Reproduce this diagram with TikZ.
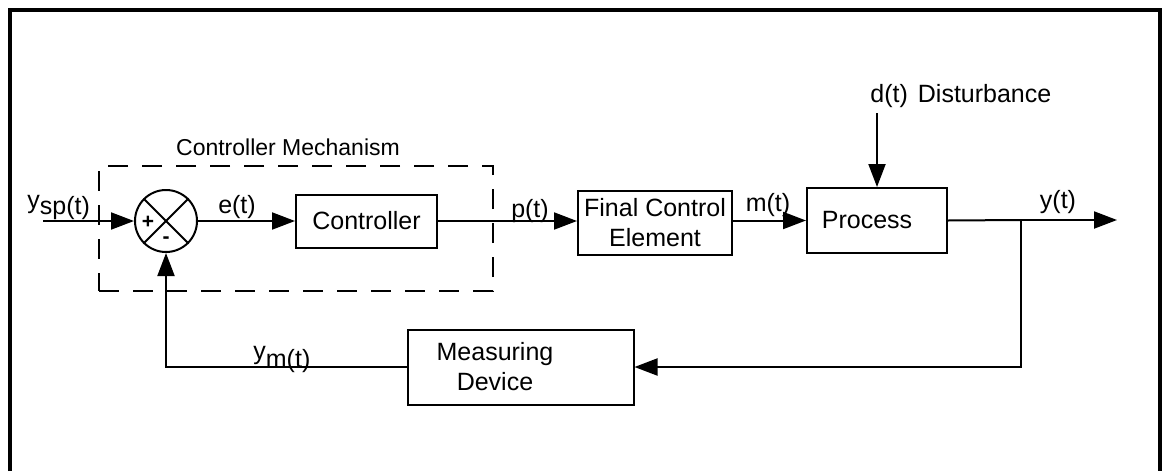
\documentclass[tikz,border=0pt]{standalone}
\usepackage{fontspec}
\setmainfont{Liberation Sans}
\usetikzlibrary{arrows.meta}
\begin{document}
\begin{tikzpicture}[x=0.5pt,y=-0.5pt,
  every node/.style={font=\fontsize{12.5pt}{15pt}\selectfont},
  wire/.style={line width=1pt},
  flow/.style={wire,-{Triangle[length=11.5pt,width=8.5pt]}},
  block/.style={draw,line width=1pt,inner sep=0pt,align=center},
  blocktext/.style={inner sep=0pt,align=center},
  mechbox/.style={draw,line width=1pt,dash pattern=on 10pt off 7pt,inner sep=0pt},
  sumjunction/.style={draw,circle,line width=1pt,minimum size=31pt,inner sep=0pt},
  sign/.style={font=\fontsize{10.5pt}{11pt}\selectfont\bfseries,inner sep=0pt}
]
\useasboundingbox (0,0) rectangle (1165,471);

% outer frame (open at the bottom)
\draw[line width=2pt] (9.5,471) -- (9.5,10) -- (1160,10) -- (1160,471);

% controller mechanism grouping
\node[mechbox,minimum width=197pt,minimum height=62.5pt] (mech) at (296,228.5) {};
\node[font=\fontsize{11.5pt}{14pt}\selectfont] (mechlabel) at (288,147) {Controller Mechanism};

% summing junction
\node[sumjunction] (sum) at (166,221) {};
\draw[wire] (sum.north west) -- (sum.south east);
\draw[wire] (sum.north east) -- (sum.south west);
\node[sign] (plus) at (148,222) {+};
\node[sign] (minus) at (166,240) {-};

% blocks
\node[block,minimum width=70.5pt,minimum height=26.5pt] (ctrl) at (366.5,221) {Controller};
\node[block,minimum width=77pt,minimum height=32pt] (fce) at (655,223) {Final Control\\Element};
\node[block,minimum width=70pt,minimum height=32.5pt] (proc) at (877,220.5) {};
\node[blocktext] (proctext) at (867,220.5) {Process};
\node[block,minimum width=113pt,minimum height=37.5pt] (meas) at (520.5,367) {};
\node[blocktext] (meastext) at (495,367) {Measuring\\Device};

% free ends
\coordinate (in) at (43,221);
\coordinate (dtop) at (877,113);
\coordinate (br) at (1021,220);
\coordinate (out) at (1117,220);

% forward path
\draw[flow] (in) -- (sum.west);
\draw[flow] (sum.east) -- (ctrl.west);
\draw[flow] (ctrl.east) -- (fce.west |- ctrl.east);
\draw[flow] (fce.east |- proc.west) -- (proc.west);
\draw[flow] (dtop) -- (proc.north);
\draw[wire] (proc.east) -- (br);
\draw[flow] (br) -- (out);

% feedback path
\draw[flow] (br) |- (meas.east);
\draw[flow] (meas.west) -| (sum.south);

% signal labels
\node[anchor=base west,inner sep=0pt] (ysp) at (27,208) {y\raisebox{-3pt}{sp(t)}};
\node[anchor=base,inner sep=0pt] (et) at (237,213) {e(t)};
\node[anchor=base,inner sep=0pt] (pt) at (530,217) {p(t)};
\node[anchor=base,inner sep=0pt] (mt) at (768,211) {m(t)};
\node[anchor=base,inner sep=0pt] (yt) at (1058,208) {y(t)};
\node[anchor=base west,inner sep=0pt] (dt) at (870,102) {d(t)\hspace{5pt}Disturbance};
\node[anchor=base west,inner sep=0pt] (ym) at (253,359) {y\raisebox{-4pt}{m(t)}};
\end{tikzpicture}
\end{document}
